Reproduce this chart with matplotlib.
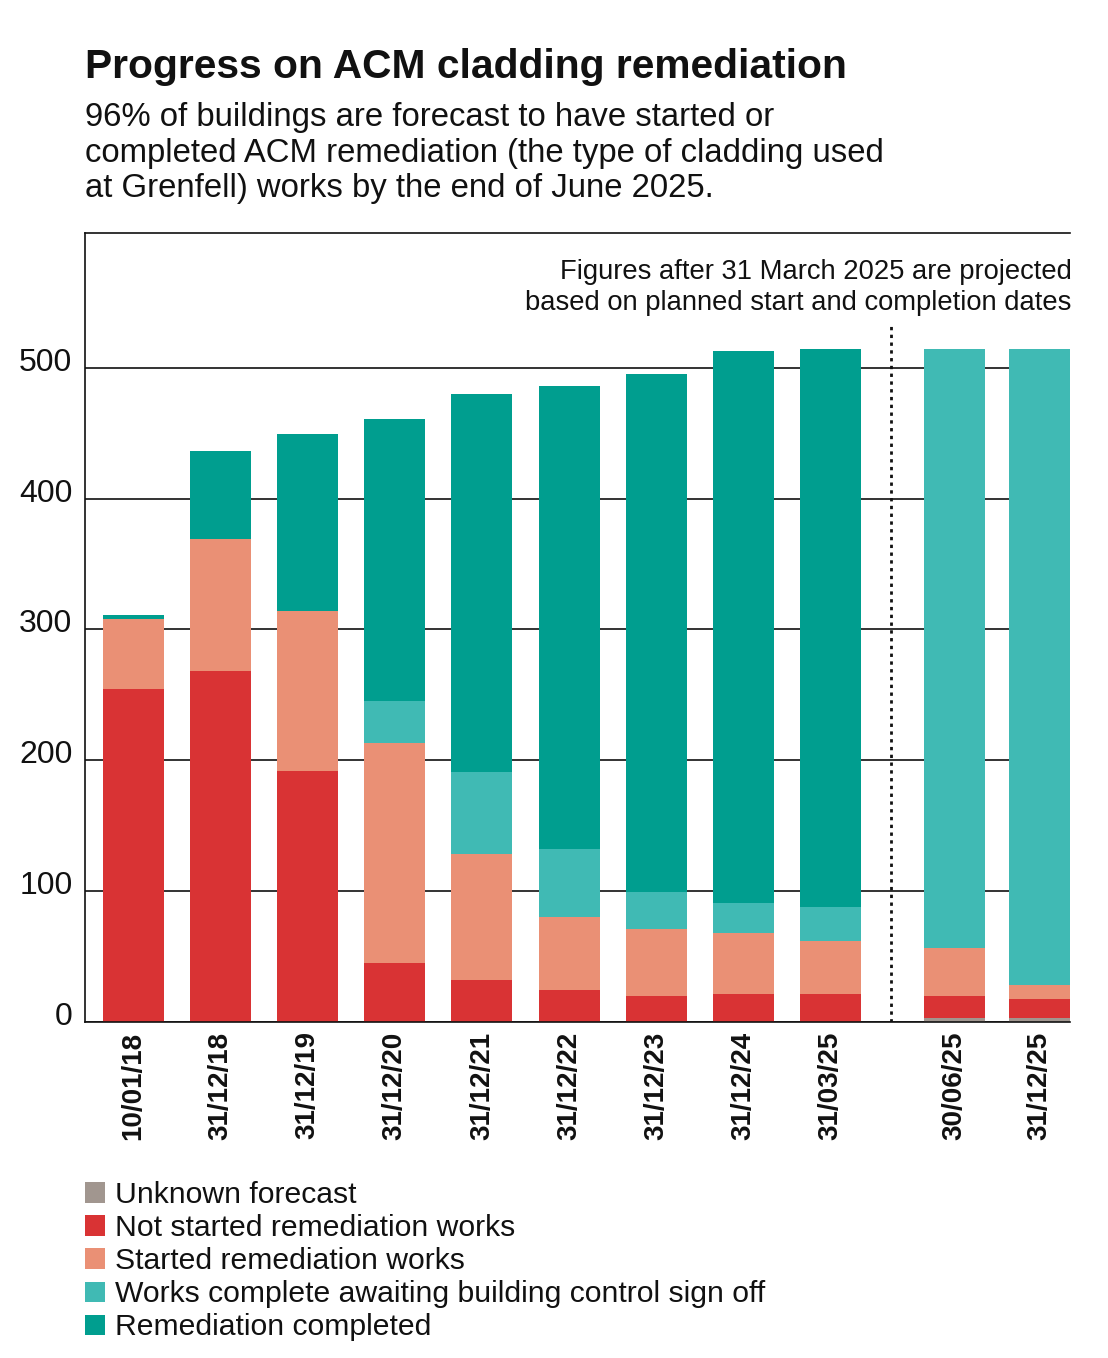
import numpy as np
import matplotlib
matplotlib.use("Agg")
import matplotlib.pyplot as plt
from matplotlib.patches import Patch
from matplotlib.transforms import ScaledTranslation

plt.rcParams['font.family'] = ['Liberation Sans', 'DejaVu Sans']

# ---- data ----
dates = ["10/01/18", "31/12/18", "31/12/19", "31/12/20", "31/12/21", "31/12/22",
         "31/12/23", "31/12/24", "31/03/25", "30/06/25", "31/12/25"]
unknown_forecast = [0, 0, 0, 0, 0, 0, 0, 0, 0, 3, 3]
not_started = [254, 268, 192, 45, 32, 24, 20, 21, 21, 17, 14]
started = [54, 101, 122, 168, 96, 56, 51, 47, 41, 36, 11]
awaiting_signoff = [0, 0, 0, 32, 63, 52, 28, 23, 26, 458, 486]
completed = [3, 67, 135, 216, 289, 354, 396, 422, 426, 0, 0]

series_labels = ["Unknown forecast", "Not started remediation works",
                 "Started remediation works",
                 "Works complete awaiting building control sign off",
                 "Remediation completed"]
series_colors = ["#a1968f", "#d93334", "#ea9075", "#40bab4", "#009e8f"]
yticks = [0, 100, 200, 300, 400, 500]

# ---- layout ----
xpos = np.r_[np.arange(9), 9.42, 10.4]
bar_w = 0.70

fig = plt.figure(figsize=(11.08, 13.58), dpi=100)
ax = fig.add_axes([85/1108, 1-1021.7/1358, (1070-85)/1108, (1021.7-233)/1358])

series = [unknown_forecast, not_started, started, awaiting_signoff, completed]
bottom = np.zeros(len(dates))
handles = []
for vals, lab, col in zip(series, series_labels, series_colors):
    v = np.array(vals, dtype=float)
    ax.bar(xpos, v, bottom=bottom, width=bar_w, color=col, linewidth=0, zorder=3)
    bottom += v
    handles.append(Patch(facecolor=col, edgecolor='none', label=lab))

ax.set_xlim(-0.556, 10.75)
ax.set_ylim(0, 603)
ax.set_yticks(yticks)
ax.yaxis.grid(True, color='#111111', linewidth=1.2, zorder=0)
ax.set_axisbelow(True)
ax.spines['right'].set_visible(False)
for s in ['left', 'bottom', 'top']:
    ax.spines[s].set_color('#111111')
    ax.spines[s].set_linewidth(1.2)
ax.spines['bottom'].set_zorder(5)

ax.tick_params(axis='y', length=0, pad=9, labelsize=23, colors='#111111')
ax.tick_params(axis='x', length=0, pad=7, labelsize=20, colors='#111111')
ax.set_xticks(xpos)
ax.set_xticklabels(dates, rotation=90, fontweight='bold', va='top', ha='center')
off = ScaledTranslation(0, -0.03, fig.dpi_scale_trans)
for lab in ax.get_yticklabels():
    lab.set_va('baseline')
    lab.set_transform(lab.get_transform() + off)

# projection divider
ax.vlines(8.70, 0, 533, colors='#111111', linestyles=(0, (1.2, 1.6)), linewidth=2, zorder=4)
ax.text(1.0015, 1-(310-233)/(1021.7-233),
        "Figures after 31 March 2025 are projected\nbased on planned start and completion dates",
        transform=ax.transAxes, ha='right', va='baseline', fontsize=19.7,
        color='#111111', linespacing=1.25)

# titles
fig.text(85/1108, 1-78/1358, "Progress on ACM cladding remediation",
         fontsize=29.3, fontweight='bold', color='#111111', va='baseline')
fig.text(85/1108, 1-197/1358,
         "96% of buildings are forecast to have started or\n"
         "completed ACM remediation (the type of cladding used\n"
         "at Grenfell) works by the end of June 2025.",
         fontsize=23.7, color='#111111', va='baseline', linespacing=1.18)

fig.legend(handles=handles, labels=series_labels, loc='upper left',
           bbox_to_anchor=(85/1108, 1-1181/1358), frameon=False, fontsize=21.7,
           handlelength=0.67, handleheight=0.67, handletextpad=0.33,
           labelspacing=0.17, borderpad=0, borderaxespad=0, labelcolor='#111111')

fig.savefig("out.png", dpi=100, facecolor='white')
